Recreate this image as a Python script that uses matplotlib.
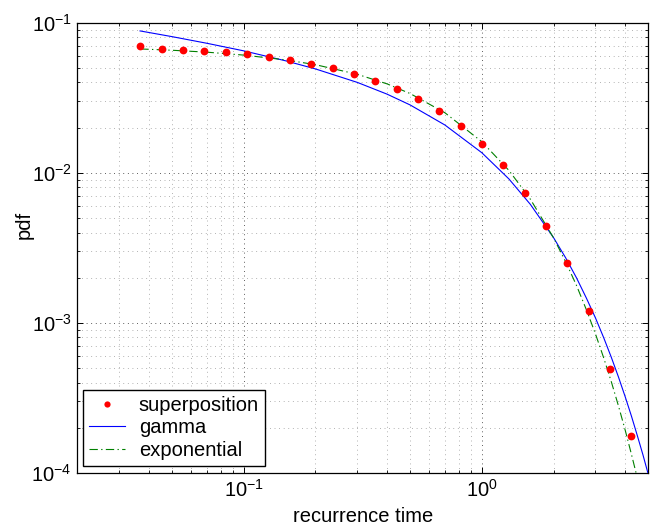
import matplotlib
matplotlib.use('Agg')
import matplotlib.pyplot as plt
from matplotlib.ticker import LogLocator, NullFormatter

plt.rcParams['font.family'] = ['Liberation Sans', 'DejaVu Sans']
plt.rcParams['mathtext.fontset'] = 'custom'
plt.rcParams['mathtext.rm'] = 'Liberation Sans'
plt.rcParams['mathtext.it'] = 'Liberation Sans:italic'
plt.rcParams['mathtext.bf'] = 'Liberation Sans:bold'

FS = 14.5

# superposition histogram (log-binned)
time_pts = [0.0368, 0.0453, 0.0557, 0.0684, 0.0841, 0.1034, 0.1271, 0.1562,
            0.1920, 0.2360, 0.2901, 0.3565, 0.4382, 0.5387, 0.6621, 0.8138,
            1.0, 1.229, 1.511, 1.857, 2.283, 2.806, 3.449, 4.240]
pdf_pts = [0.0699, 0.0670, 0.0654, 0.0650, 0.0637, 0.0618, 0.0587, 0.0563,
           0.0532, 0.0496, 0.0452, 0.0409, 0.0364, 0.0311, 0.0257, 0.0204,
           0.0156, 0.0112, 0.00738, 0.00445, 0.00250, 0.00120, 0.000494, 0.000176]

# gamma fit
gamma_t = [0.0367, 0.05, 0.07, 0.1, 0.15, 0.2, 0.3, 0.4, 0.5, 0.7, 1.0, 1.3,
           1.6, 2.0, 2.25, 2.5, 2.75, 3.0, 3.25, 3.5, 3.75, 4.0, 4.25, 4.5,
           4.75, 5.0]
gamma_pdf = [0.0881, 0.0807, 0.0729, 0.0649, 0.0557, 0.0492, 0.0400, 0.0334,
             0.0283, 0.0208, 0.0136, 0.00909, 0.00615, 0.00370, 0.00271,
             0.00199, 0.00146, 0.00108, 0.000796, 0.000588, 0.000435,
             0.000322, 0.000239, 0.000177, 0.000132, 0.0000980]

# exponential fit
exp_t = [0.0368, 0.05, 0.07, 0.1, 0.15, 0.2, 0.3, 0.4, 0.5, 0.7, 1.0, 1.3,
         1.6, 2.0, 2.25, 2.5, 2.75, 3.0, 3.25, 3.5, 3.75, 4.0, 4.25, 4.5]
exp_pdf = [0.0668, 0.0655, 0.0636, 0.0608, 0.0565, 0.0525, 0.0453, 0.0391,
           0.0337, 0.0251, 0.0161, 0.01036, 0.00666, 0.00369, 0.00255,
           0.00177, 0.00122, 0.000845, 0.000584, 0.000404, 0.000279,
           0.000193, 0.000133, 0.0000924]

fig = plt.figure(figsize=(6.51, 5.27), dpi=100)
ax = fig.add_axes([0.1187, 0.1025, 0.8771, 0.8545])

ax.plot(time_pts, pdf_pts, 'o', color='red', mec='none', ms=5.6, label='superposition', zorder=4)
ax.plot(gamma_t, gamma_pdf, '-', color='blue', lw=0.8, label='gamma', zorder=3)
ax.plot(exp_t, exp_pdf, color=(0, 0.5, 0), lw=0.8, linestyle=(0, (7.5, 3, 1.2, 3)),
        label='exponential', zorder=3)

ax.set_xscale('log')
ax.set_yscale('log')
ax.set_xlim(0.02, 5)
ax.set_ylim(1e-4, 1e-1)

ax.xaxis.set_minor_locator(LogLocator(base=10, subs=range(2, 10), numticks=20))
ax.yaxis.set_minor_locator(LogLocator(base=10, subs=range(2, 10), numticks=20))
ax.xaxis.set_minor_formatter(NullFormatter())
ax.yaxis.set_minor_formatter(NullFormatter())

ax.grid(True, which='major', color='0.15', lw=0.6, linestyle=(0, (1.0, 4.5)))
ax.grid(True, which='minor', color='0.6', lw=0.6, linestyle=(0, (1.0, 4.5)))
ax.set_axisbelow(True)

ax.tick_params(which='both', direction='in', top=True, right=True, labelsize=FS)
ax.tick_params(which='major', length=4, width=0.7)
ax.tick_params(which='minor', length=2.2, width=0.6)
ax.tick_params(axis='x', pad=4)
ax.tick_params(axis='y', pad=4)
for s in ax.spines.values():
    s.set_linewidth(0.9)

ax.set_xlabel('recurrence time', fontsize=FS)
ax.set_ylabel('pdf', fontsize=FS)
ax.xaxis.set_label_coords(0.5, -0.075)
ax.yaxis.set_label_coords(-0.076, 0.55)

leg = ax.legend(loc='lower left', bbox_to_anchor=(0.0105, 0.0155), borderaxespad=0,
                fontsize=FS, fancybox=False, framealpha=1, edgecolor='black',
                labelspacing=0.18, handlelength=1.75, handletextpad=0.7,
                borderpad=0.3, markerscale=0.8)
leg.get_frame().set_linewidth(1.0)

fig.savefig('out.png', dpi=100)
